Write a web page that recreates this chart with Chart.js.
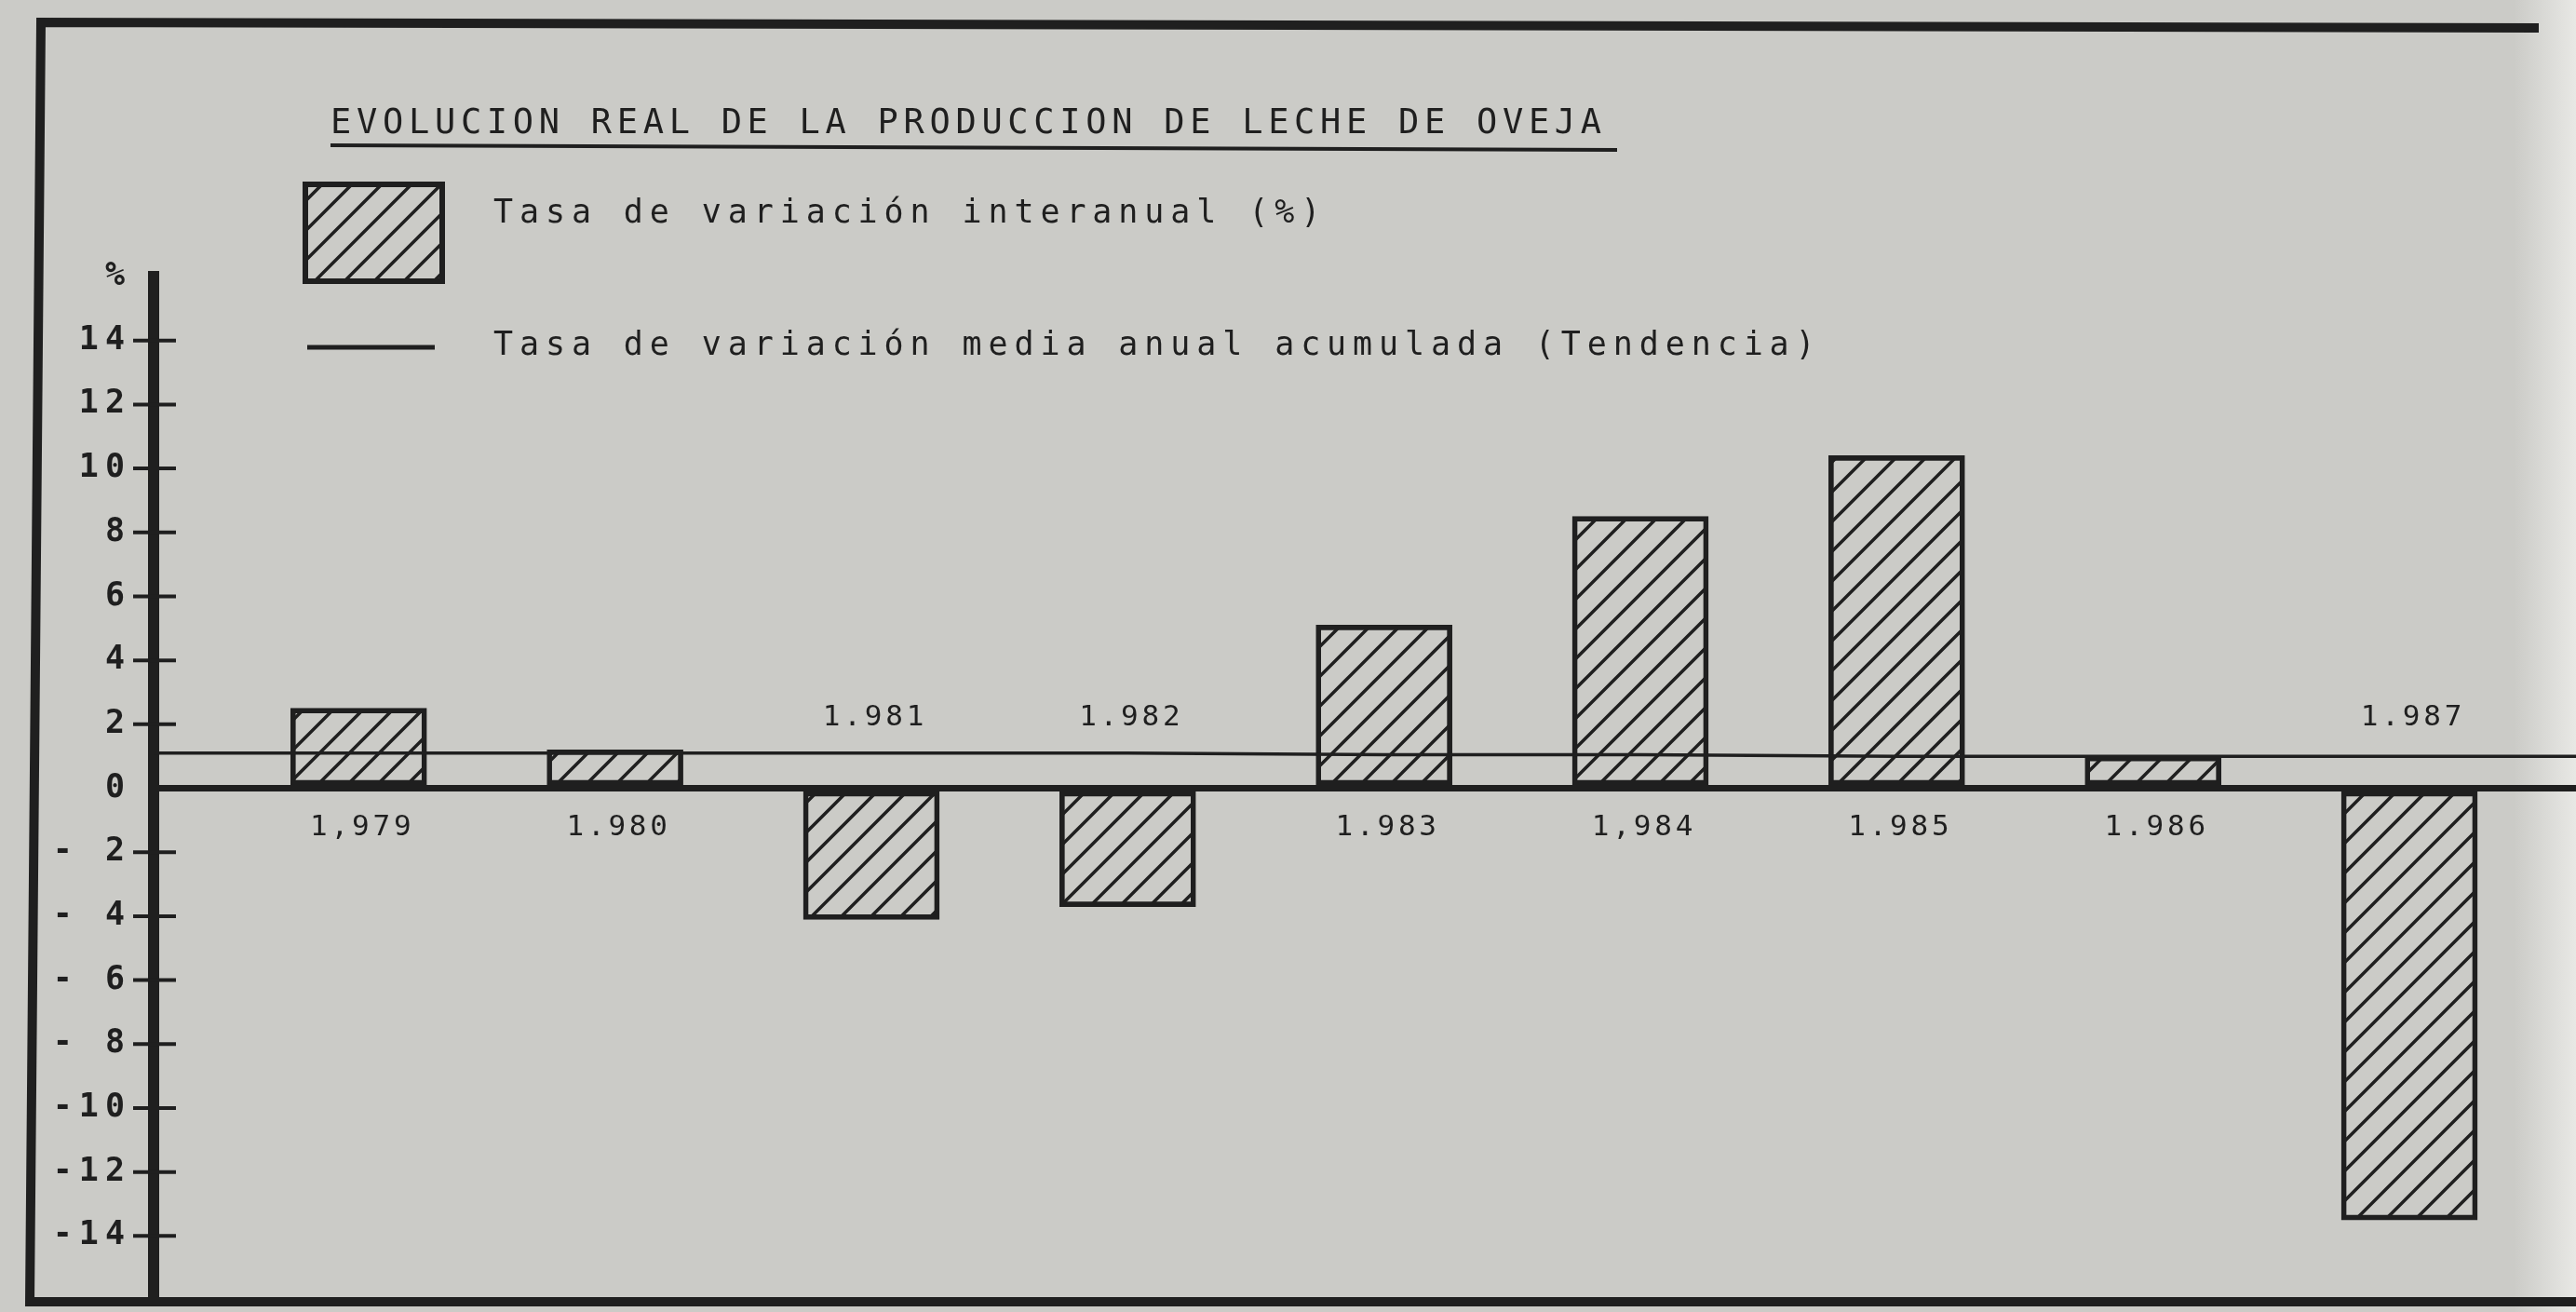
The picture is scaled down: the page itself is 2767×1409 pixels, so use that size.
<!DOCTYPE html>
<html>
<head>
<meta charset="utf-8">
<script src="https://cdn.jsdelivr.net/npm/chart.js@4.4.1/dist/chart.umd.min.js"></script>
<style>
  html, body { margin: 0; padding: 0; background: #cbcbc7; }
  canvas { display: block; }
</style>
</head>
<body>
<canvas id="leche" width="2767" height="1409"></canvas>
<script>
// datos
const years = [1979, 1980, 1981, 1982, 1983, 1984, 1985, 1986, 1987];
const yearLabels = ['1,979', '1.980', '1.981', '1.982', '1.983', '1,984', '1.985', '1.986', '1.987'];
const variacion = [2.5, 1.2, -4.1, -3.7, 5.1, 8.5, 10.4, 1.0, -13.5];   // tasa interanual (%)
const tendencia = [1.1, 1.1, 1.1, 1.1, 1.05, 1.05, 1.0, 1.0, 1.0];     // media anual acumulada
const yTickValues = [16, 14, 12, 10, 8, 6, 4, 2, 0, -2, -4, -6, -8, -10, -12, -14];
const yTickLabels = ['%', '14', '12', '10', '8', '6', '4', '2', '0', '- 2', '- 4', '- 6', '- 8', '-10', '-12', '-14'];

const titulo = 'EVOLUCION REAL DE LA PRODUCCION DE LECHE DE OVEJA';
const leyendaBarras = 'Tasa de variación interanual (%)';
const leyendaLinea = 'Tasa de variación media anual acumulada (Tendencia)';

const INK = '#1f1f1f';
const PAPER = '#cbcbc7';
const MONO = '"DejaVu Sans Mono", "Liberation Mono", monospace';
const X_MIN = 1978.2, X_MAX = 1987.65;

const canvas = document.getElementById('leche');
const ctx = canvas.getContext('2d');

function rayado() {
  const s = 32;
  const c = document.createElement('canvas');
  c.width = s; c.height = s;
  const g = c.getContext('2d');
  g.strokeStyle = INK;
  g.lineWidth = 3.5;
  g.beginPath();
  g.moveTo(-2, s + 2); g.lineTo(s + 2, -2);
  g.moveTo(-s / 2, s / 2); g.lineTo(s / 2, -s / 2);
  g.moveTo(s / 2, s * 1.5); g.lineTo(s * 1.5, s / 2);
  g.stroke();
  return ctx.createPattern(c, 'repeat');
}
const hatch = rayado();

// marco, título y leyenda (texto del original)
const papel = {
  id: 'papel',
  beforeDraw(chart) {
    const c = chart.ctx;
    c.save();
    c.fillStyle = PAPER;
    c.fillRect(0, 0, chart.width, chart.height);
    // borde claro de la hoja a la derecha
    const g = c.createLinearGradient(2700, 0, chart.width, 0);
    g.addColorStop(0, 'rgba(235,235,232,0)');
    g.addColorStop(1, 'rgba(235,235,232,0.9)');
    c.fillStyle = g;
    c.fillRect(2700, 0, chart.width - 2700, chart.height);

    // marco
    c.strokeStyle = INK;
    c.lineWidth = 10;
    c.beginPath();
    c.moveTo(chart.width - 40, 30);
    c.lineTo(44, 24);
    c.lineTo(32, 1398);
    c.lineTo(chart.width, 1398);
    c.stroke();

    // título subrayado
    c.fillStyle = INK;
    c.font = '37px ' + MONO;
    c.letterSpacing = '5.7px';
    c.textBaseline = 'alphabetic';
    c.fillText(titulo, 355, 143);
    c.lineWidth = 4;
    c.beginPath();
    c.moveTo(355, 156);
    c.lineTo(1737, 161);
    c.stroke();

    // leyenda
    c.font = '35px ' + MONO;
    c.letterSpacing = '6.9px';
    c.fillText(leyendaBarras, 530, 239);
    c.fillText(leyendaLinea, 530, 381);
    c.fillStyle = hatch;
    c.fillRect(328, 198, 147, 104);
    c.lineWidth = 6;
    c.strokeRect(328, 198, 147, 104);
    c.lineWidth = 5;
    c.beginPath();
    c.moveTo(330, 373);
    c.lineTo(467, 373);
    c.stroke();
    c.restore();

    // espaciado de las etiquetas del eje Y
    c.letterSpacing = '7px';
  },
  beforeDatasetsDraw(chart) {
    chart.ctx.letterSpacing = '0px';
  },
  afterDatasetsDraw(chart) {
    const c = chart.ctx;
    const yS = chart.scales.y;
    const ax = chart.chartArea.left;
    c.save();
    // cruces del eje
    c.strokeStyle = INK;
    c.lineWidth = 4;
    yS.ticks.forEach(t => {
      if (t.value === 0 || Math.abs(t.value) >= 16) return;
      const py = yS.getPixelForValue(t.value);
      c.beginPath();
      c.moveTo(ax - 22, py);
      c.lineTo(ax + 24, py);
      c.stroke();
    });
    // años junto a cada barra
    const meta = chart.getDatasetMeta(0);
    const y0 = yS.getPixelForValue(0);
    c.fillStyle = INK;
    c.font = '31px ' + MONO;
    c.letterSpacing = '3.8px';
    c.textAlign = 'center';
    c.textBaseline = 'middle';
    meta.data.forEach((bar, i) => {
      const py = variacion[i] >= 0 ? y0 + 42 : y0 - 76;
      c.fillText(yearLabels[i], bar.x + 4, py);
    });
    c.restore();
  }
};

new Chart(ctx, {
  data: {
    datasets: [{
      type: 'bar',
      label: leyendaBarras,
      data: years.map((yr, i) => ({ x: yr, y: variacion[i] })),
      backgroundColor: hatch,
      borderColor: INK,
      borderWidth: 5,
      borderSkipped: false,
      barThickness: 146,
      order: 2
    }, {
      type: 'line',
      label: leyendaLinea,
      data: [{ x: X_MIN, y: tendencia[0] }]
        .concat(years.map((yr, i) => ({ x: yr, y: tendencia[i] })))
        .concat([{ x: X_MAX, y: tendencia[tendencia.length - 1] }]),
      borderColor: INK,
      borderWidth: 3.5,
      pointRadius: 0,
      tension: 0,
      order: 1
    }]
  },
  options: {
    responsive: false,
    animation: false,
    events: [],
    layout: { padding: { top: 297, bottom: 13, left: 0, right: 0 } },
    plugins: {
      legend: { display: false },
      title: { display: false },
      tooltip: { enabled: false }
    },
    scales: {
      x: {
        type: 'linear',
        min: X_MIN,
        max: X_MAX,
        offset: false,
        display: false
      },
      y: {
        min: -16,
        max: 16,
        afterBuildTicks: scale => {
          scale.ticks = yTickValues.slice().sort((a, b) => a - b).map(v => ({ value: v }));
        },
        afterFit: scale => {
          scale.width = 165;
          scale.paddingTop = 0;
          scale.paddingBottom = 0;
        },
        ticks: {
          color: INK,
          padding: 24,
          font: { family: MONO, size: 35, weight: 'bold' },
          callback: value => yTickLabels[yTickValues.indexOf(value)]
        },
        grid: {
          drawTicks: false,
          color: c => (c.tick && c.tick.value === 0 ? INK : 'rgba(0,0,0,0)'),
          lineWidth: c => (c.tick && c.tick.value === 0 ? 7 : 0)
        },
        border: { display: true, color: INK, width: 12 }
      }
    }
  },
  plugins: [papel]
});
</script>
</body>
</html>
